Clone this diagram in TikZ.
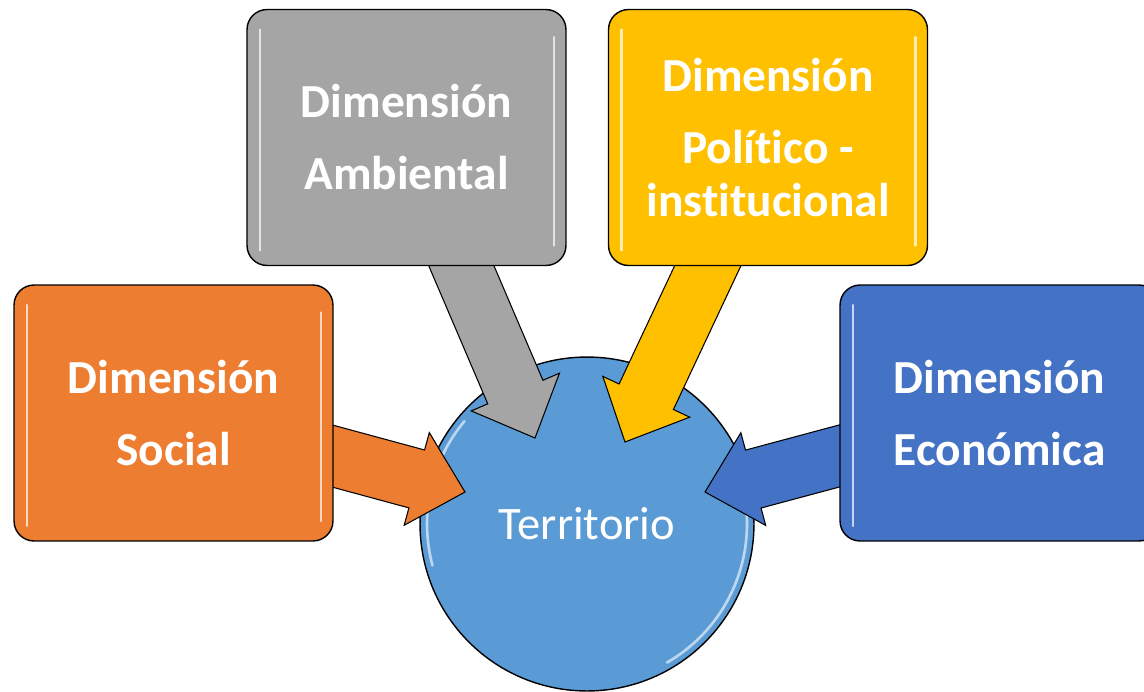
\documentclass[tikz,border=0pt]{standalone}
\usepackage{fontspec}
\usetikzlibrary{calc}

\newfontfamily\calibri[Ligatures={NoCommon}]{Carlito}

% Office colours
\definecolor{socialorange}{HTML}{ED7D31}
\definecolor{ambientgray}{HTML}{A5A5A5}
\definecolor{politicgold}{HTML}{FFC000}
\definecolor{economblue}{HTML}{4472C4}
\definecolor{territblue}{HTML}{5B9BD5}

% layers: circle at the back, arrows in the middle, boxes on top
\pgfdeclarelayer{back}
\pgfdeclarelayer{mid}
\pgfsetlayers{back,mid,main}

% block arrow from the centre of a box to a tip
\newcommand{\blockarrow}[3]{%
  \path ($(#2)!1cm!(#1)$) coordinate (hb);
  \filldraw[fill=#3, draw=black, line width=0.6pt, line join=miter]
    (#2) -- ($(hb)!0.96cm!90:(#2)$) -- ($(hb)!0.6cm!90:(#2)$)
    -- ($(#1)!0.6cm!90:(#2)$) -- ($(#1)!0.6cm!-90:(#2)$)
    -- ($(hb)!0.6cm!-90:(#2)$) -- ($(hb)!0.96cm!-90:(#2)$) -- cycle;
}

\tikzset{
  dimbox/.style={rectangle, rounded corners=0.4cm, draw=black, line width=0.8pt,
    minimum width=6.38cm, minimum height=5.12cm, inner sep=0pt,
    text=white, align=center, font=\calibri\bfseries\fontsize{27}{30}\selectfont,
    path picture={
      \draw[white, opacity=0.7, line width=1.3pt, line cap=round]
        ([xshift=0.26cm, yshift=-0.4cm]path picture bounding box.north west)
          -- ([xshift=0.26cm, yshift=0.3cm]path picture bounding box.south west)
        ([xshift=-0.24cm, yshift=-0.55cm]path picture bounding box.north east)
          -- ([xshift=-0.24cm, yshift=0.4cm]path picture bounding box.south east);
    }},
  territ/.style={circle, draw=black, line width=0.8pt, fill=territblue,
    minimum size=6.68cm, inner sep=0pt, text=white,
    font=\calibri\fontsize{26.5}{30}\selectfont}
}

\begin{document}
\begin{tikzpicture}[x=0.02cm, y=-0.02cm]

    \useasboundingbox (0,0) rectangle (1144,691);
    \clip (0,0) rectangle (1144,691);

    % Centre circle
    \begin{pgfonlayer}{back}
    \node[territ] (terr) at (587,524) {Territorio};
    \draw[white, opacity=0.6, line width=1.5pt, line cap=round]
      ([shift={(195:3.2cm)}]terr.center) arc[start angle=195, end angle=140, radius=3.2cm];
    \draw[white, opacity=0.6, line width=1.5pt, line cap=round]
      ([shift={(15:3.2cm)}]terr.center) arc[start angle=15, end angle=-60, radius=3.2cm];
    \end{pgfonlayer}

    % The four dimensions
    \node[dimbox, fill=socialorange] (social) at (173.5,413)
      {Dimensión\\[11pt]Social};
    \node[dimbox, fill=ambientgray] (ambiental) at (406.5,137.5)
      {Dimensión\\[11pt]Ambiental};
    \node[dimbox, fill=politicgold] (politico) at (768,137.5)
      {Dimensión\\[11pt]Político -\\institucional};
    \node[dimbox, fill=economblue] (economico) at (999.5,413)
      {Dimensión\\[11pt]Económica};

    % Tips of the arrows inside the circle
    \coordinate (tsocial) at (465,492);
    \coordinate (tambiental) at (535,438);
    \coordinate (tpolitico) at (625,442);
    \coordinate (teconomico) at (705,492);

    % Arrows
    \begin{pgfonlayer}{mid}
    \blockarrow{social}{tsocial}{socialorange}
    \blockarrow{ambiental}{tambiental}{ambientgray}
    \blockarrow{politico}{tpolitico}{politicgold}
    \blockarrow{economico}{teconomico}{economblue}
    \end{pgfonlayer}

\end{tikzpicture}
\end{document}
